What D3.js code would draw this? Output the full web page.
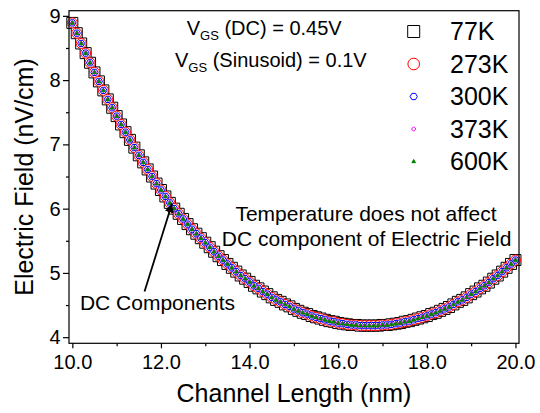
<!DOCTYPE html>
<html lang="en">
  <head>
    <meta charset="utf-8">
    <title>Electric Field vs Channel Length</title>
    <script src="https://d3js.org/d3.v7.min.js"></script>
    <style>
      body { margin: 0; background: #fff; }
      text { font-family: "Liberation Sans", Arial, sans-serif; fill: #000; }
    </style>
  </head>
  <body>
    <div id="chart"></div>

    <script type="text/javascript">
    // channel length (nm), step 0.1
    var channelLength = [
      10.0, 10.1, 10.2, 10.3, 10.4, 10.5, 10.6, 10.7, 10.8, 10.9,
      11.0, 11.1, 11.2, 11.3, 11.4, 11.5, 11.6, 11.7, 11.8, 11.9,
      12.0, 12.1, 12.2, 12.3, 12.4, 12.5, 12.6, 12.7, 12.8, 12.9,
      13.0, 13.1, 13.2, 13.3, 13.4, 13.5, 13.6, 13.7, 13.8, 13.9,
      14.0, 14.1, 14.2, 14.3, 14.4, 14.5, 14.6, 14.7, 14.8, 14.9,
      15.0, 15.1, 15.2, 15.3, 15.4, 15.5, 15.6, 15.7, 15.8, 15.9,
      16.0, 16.1, 16.2, 16.3, 16.4, 16.5, 16.6, 16.7, 16.8, 16.9,
      17.0, 17.1, 17.2, 17.3, 17.4, 17.5, 17.6, 17.7, 17.8, 17.9,
      18.0, 18.1, 18.2, 18.3, 18.4, 18.5, 18.6, 18.7, 18.8, 18.9,
      19.0, 19.1, 19.2, 19.3, 19.4, 19.5, 19.6, 19.7, 19.8, 19.9,
      20.0
    ];

    // DC electric field (nV/cm), same for every temperature
    var fieldDC = [
      8.89, 8.73, 8.57, 8.42, 8.27, 8.12, 7.98, 7.84, 7.70, 7.57,
      7.44, 7.31, 7.19, 7.07, 6.95, 6.83, 6.72, 6.61, 6.50, 6.39,
      6.29, 6.19, 6.09, 6.00, 5.92, 5.84, 5.76, 5.68, 5.61, 5.54,
      5.47, 5.40, 5.33, 5.26, 5.20, 5.14, 5.08, 5.02, 4.96, 4.91,
      4.86, 4.80, 4.76, 4.71, 4.67, 4.62, 4.58, 4.55, 4.51, 4.48,
      4.44, 4.41, 4.38, 4.36, 4.33, 4.31, 4.29, 4.27, 4.25, 4.24,
      4.22, 4.21, 4.20, 4.19, 4.19, 4.18, 4.18, 4.18, 4.18, 4.18,
      4.19, 4.19, 4.20, 4.21, 4.22, 4.24, 4.25, 4.27, 4.29, 4.31,
      4.33, 4.36, 4.38, 4.41, 4.44, 4.47, 4.51, 4.55, 4.58, 4.62,
      4.67, 4.71, 4.76, 4.80, 4.85, 4.91, 4.96, 5.02, 5.08, 5.14,
      5.20
    ];

    var temperatures = ["77K", "273K", "300K", "373K", "600K"];
    var xTicks = [10, 12, 14, 16, 18, 20];
    var xMinorTicks = [11, 13, 15, 17, 19];
    var yTicks = [4, 5, 6, 7, 8, 9];
    var yMinorTicks = [4.5, 5.5, 6.5, 7.5, 8.5];

    var width = 540, height = 413;
    var margin = {top: 10.7, right: 21, bottom: 69.7, left: 69};
    var plotW = width - margin.left - margin.right,
        plotH = height - margin.top - margin.bottom;

    var x = d3.scaleLinear().domain([9.925, 20.08]).range([0, plotW]);
    var y = d3.scaleLinear().domain([3.905, 9.08]).range([plotH, 0]);

    // marker shapes (origin style)
    function square(r) { return "M" + (-r) + "," + (-r) + "h" + (2*r) + "v" + (2*r) + "h" + (-2*r) + "Z"; }
    function circle(r) { return "M" + r + ",0A" + r + "," + r + " 0 1,1 " + (-r) + ",0A" + r + "," + r + " 0 1,1 " + r + ",0Z"; }
    function hexagon(r) {
      var p = d3.range(6).map(function(i) { var a = Math.PI / 3 * i; return [r * Math.cos(a), r * Math.sin(a)]; });
      return "M" + p.join("L") + "Z";
    }
    function diamond(r) { return "M0," + (-r) + "L" + r + ",0L0," + r + "L" + (-r) + ",0Z"; }
    function triangle(r) { return "M0," + (-r) + "L" + (r * 0.9) + "," + (r * 0.6) + "L" + (-r * 0.9) + "," + (r * 0.6) + "Z"; }

    var styles = [
      {path: square(5.5),   stroke: "#000000", fill: "#ffffff", legend: square(6)},
      {path: circle(5),     stroke: "#ff0000", fill: "#ffffff", legend: circle(5.8)},
      {path: hexagon(3.6),  stroke: "#0000ff", fill: "#ffffff", legend: hexagon(3.6)},
      {path: diamond(2.3),  stroke: "#ff00ff", fill: "#ffffff", legend: diamond(2.2)},
      {path: triangle(2.2), stroke: "#008000", fill: "#008000", legend: triangle(2)}
    ];

    var series = temperatures.map(function(t, i) {
      return {name: t, style: styles[i], values: channelLength.map(function(c, j) { return {x: c, y: fieldDC[j]}; })};
    });

    var svg = d3.select("#chart").append("svg")
      .attr("width", width)
      .attr("height", height);

    var g = svg.append("g")
      .attr("transform", "translate(" + margin.left + "," + margin.top + ")");

    // markers, one series after the other
    series.forEach(function(s) {
      g.append("g").selectAll("path")
        .data(s.values)
        .enter().append("path")
        .attr("transform", function(d) { return "translate(" + x(d.x) + "," + y(d.y) + ")"; })
        .attr("d", s.style.path)
        .attr("fill", s.style.fill)
        .attr("stroke", s.style.stroke)
        .attr("stroke-width", 1);
    });

    // frame
    g.append("rect")
      .attr("width", plotW).attr("height", plotH)
      .attr("fill", "none").attr("stroke", "#000").attr("stroke-width", 1.2);

    // axes
    var xAxis = g.append("g")
      .attr("transform", "translate(0," + plotH + ")")
      .call(d3.axisBottom(x).tickValues(xTicks).tickFormat(d3.format(".1f")).tickSize(5).tickPadding(7).tickSizeOuter(0));
    g.append("g")
      .attr("transform", "translate(0," + plotH + ")")
      .call(d3.axisBottom(x).tickValues(xMinorTicks).tickFormat("").tickSize(3).tickSizeOuter(0));
    var yAxis = g.append("g")
      .call(d3.axisLeft(y).tickValues(yTicks).tickFormat(d3.format("d")).tickSize(6).tickPadding(2.5).tickSizeOuter(0));
    g.append("g")
      .call(d3.axisLeft(y).tickValues(yMinorTicks).tickFormat("").tickSize(3).tickSizeOuter(0));

    g.selectAll(".domain").remove();
    g.selectAll(".tick line").attr("stroke", "#000").attr("stroke-width", 1.2);
    xAxis.selectAll("text").style("font-size", "20px").style("font-family", "Liberation Sans, Arial, sans-serif");
    yAxis.selectAll("text").style("font-size", "20px").style("font-family", "Liberation Sans, Arial, sans-serif");

    // axis titles
    svg.append("text")
      .attr("x", margin.left + plotW / 2).attr("y", 401.7)
      .attr("text-anchor", "middle").style("font-size", "25px")
      .text("Channel Length (nm)");
    svg.append("text")
      .attr("transform", "translate(32.7," + (margin.top + plotH / 2) + ") rotate(-90)")
      .attr("text-anchor", "middle").style("font-size", "25px")
      .text("Electric Field (nV/cm)");

    // legend
    var legend = svg.append("g");
    series.forEach(function(s, i) {
      var cy = 31.5 + i * 32.5;
      legend.append("path")
        .attr("transform", "translate(413.7," + cy + ")")
        .attr("d", s.style.legend)
        .attr("fill", s.style.fill)
        .attr("stroke", s.style.stroke)
        .attr("stroke-width", 1);
      legend.append("text")
        .attr("x", 450).attr("y", cy + 8.5)
        .style("font-size", "25px")
        .text(s.name);
    });

    // bias conditions
    var bias = [["(DC) = 0.45V", 35], ["(Sinusoid) = 0.1V", 66.7]];
    var biasEnd = [341.7, 366.7];
    bias.forEach(function(b, i) {
      var t = svg.append("text")
        .attr("x", biasEnd[i]).attr("y", b[1])
        .attr("text-anchor", "end").style("font-size", "20px");
      t.append("tspan").text("V");
      t.append("tspan").attr("dy", 5).style("font-size", "13px").text("GS");
      t.append("tspan").attr("dy", -5).text(" " + b[0]);
    });

    // note
    svg.append("text")
      .attr("x", 366).attr("y", 220.7)
      .attr("text-anchor", "middle").style("font-size", "21px")
      .text("Temperature does not affect");
    svg.append("text")
      .attr("x", 366.6).attr("y", 246)
      .attr("text-anchor", "middle").style("font-size", "21px")
      .text("DC component of Electric Field");

    // arrow to the curve
    svg.append("defs").append("marker")
      .attr("id", "head")
      .attr("viewBox", "0 0 10 10")
      .attr("refX", 10).attr("refY", 5)
      .attr("markerWidth", 5).attr("markerHeight", 5)
      .attr("markerUnits", "strokeWidth")
      .attr("orient", "auto")
      .append("path").attr("d", "M0,0L10,5L0,10Z").attr("fill", "#000");

    var arrowFrom = [11.63, 4.71], arrowTo = [12.25, 6.08];
    g.append("line")
      .attr("x1", x(arrowFrom[0])).attr("y1", y(arrowFrom[1]))
      .attr("x2", x(arrowTo[0])).attr("y2", y(arrowTo[1]))
      .attr("stroke", "#000").attr("stroke-width", 1.8)
      .attr("marker-end", "url(#head)");

    svg.append("text")
      .attr("x", 79.9).attr("y", 310)
      .style("font-size", "21px")
      .text("DC Components");
    </script>
  </body>
</html>
